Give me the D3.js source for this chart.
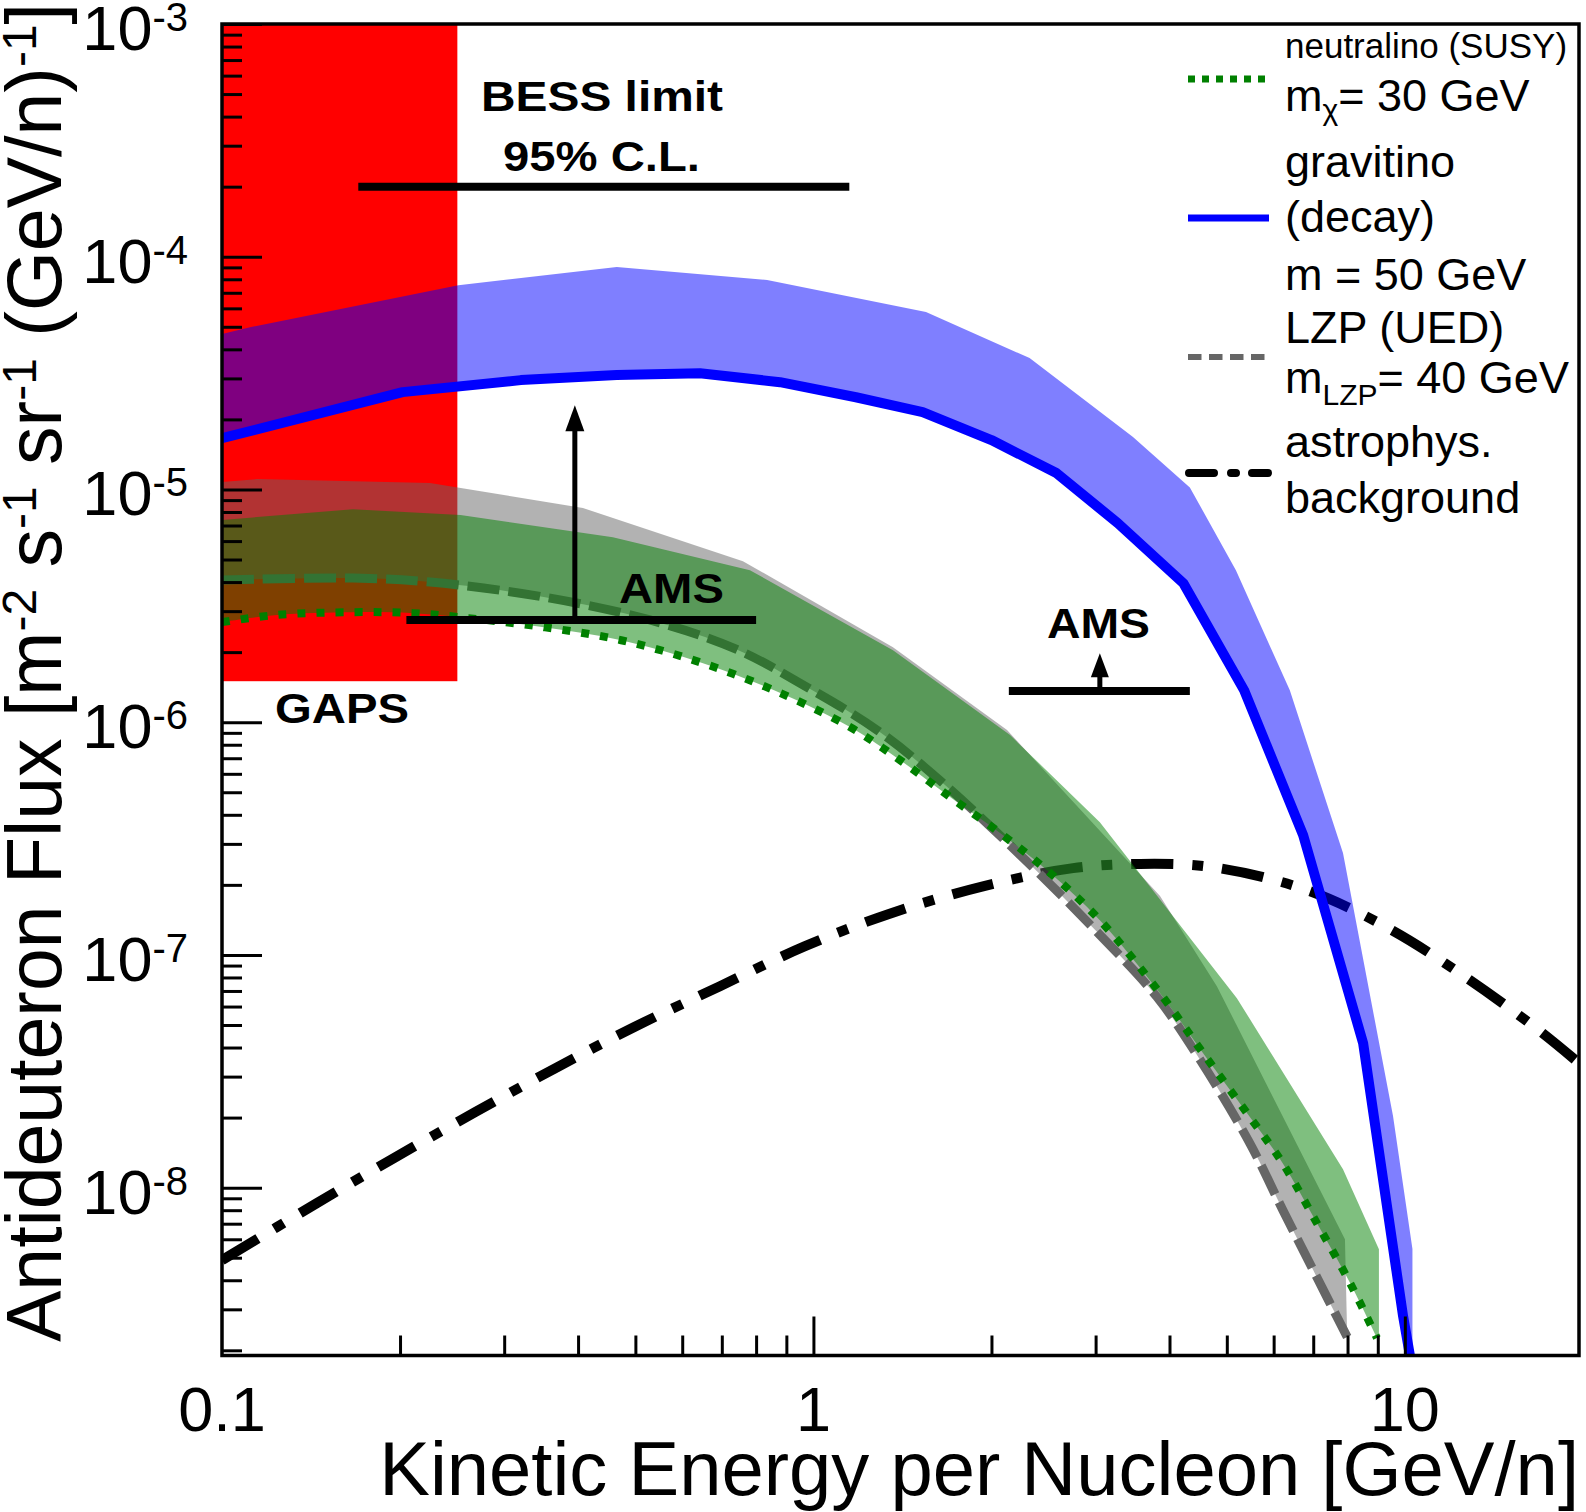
<!DOCTYPE html>
<html><head><meta charset="utf-8">
<script src="https://cdn.jsdelivr.net/npm/d3@7"></script>
<style>
html,body{margin:0;padding:0;background:#fff;}
svg{display:block;}
text{font-family:"Liberation Sans", Arial, Helvetica, sans-serif;fill:#000;}
</style></head><body>
<svg id="chart" width="1586" height="1512"></svg>
<script>
// ---------------- data (kinetic energy per nucleon [GeV/n], flux) ----------------
// gravitino (decay), m = 50 GeV : band upper edge and central line (= lower edge)
const gravitinoBandE  = [0.1, 0.112, 0.251, 0.465, 0.835, 1.55, 2.32, 3.47, 4.33, 5.18, 6.39, 7.86, 9.55, 10.3, 10.3];
const gravitinoBandHi = [4.66e-5, 4.99e-5, 7.55e-5, 9.03e-5, 7.94e-5, 5.79e-5, 3.67e-5, 1.68e-5, 1.02e-5, 4.5e-6, 1.37e-6, 2.74e-7, 2.03e-8, 5.45e-9, 1.9e-9];
const gravitinoE    = [0.1, 0.202, 0.32, 0.465, 0.643, 0.878, 1.18, 1.53, 2.0, 2.57, 3.27, 4.22, 5.35, 6.73, 8.5, 9.93, 10.2];
const gravitinoFlux = [1.66e-5, 2.62e-5, 2.95e-5, 3.10e-5, 3.16e-5, 2.89e-5, 2.49e-5, 2.15e-5, 1.63e-5, 1.18e-5, 7.17e-6, 3.96e-6, 1.37e-6, 3.27e-7, 4.18e-8, 2.81e-9, 1.9e-9];

// neutralino (SUSY), m = 30 GeV : band upper edge and dotted line (= lower edge)
const neutralinoBandE  = [0.1, 0.1665, 0.253, 0.458, 0.781, 1.363, 2.15, 3.05, 5.2, 7.86, 9.04, 9.04];
const neutralinoBandHi = [7.39e-6, 8.23e-6, 7.76e-6, 6.24e-6, 4.5e-6, 2.04e-6, 8.8e-7, 3.72e-7, 6.52e-8, 1.2e-8, 5.44e-9, 2.2e-9];
const neutralinoE    = [0.1, 0.124, 0.1665, 0.211, 0.261, 0.35, 0.473, 0.643, 0.858, 1.153, 1.401, 1.702, 2.068, 2.513, 3.05, 3.855, 4.56, 5.47, 6.22, 7.10, 8.08, 8.97];
const neutralinoFlux = [2.69e-6, 2.89e-6, 2.97e-6, 2.94e-6, 2.80e-6, 2.56e-6, 2.25e-6, 1.81e-6, 1.37e-6, 9.53e-7, 6.87e-7, 4.77e-7, 3.34e-7, 2.25e-7, 1.41e-7, 6.85e-8, 3.78e-8, 2.01e-8, 1.27e-8, 7.04e-9, 3.89e-9, 2.26e-9];

// LZP (UED), m = 40 GeV : band upper edge and dashed line (= lower edge)
const lzpBandE  = [0.1, 0.1146, 0.2247, 0.4076, 0.76, 1.363, 2.125, 3.855, 4.81, 7.92];
const lzpBandHi = [1.076e-5, 1.108e-5, 1.066e-5, 8.32e-6, 4.92e-6, 2.10e-6, 9.25e-7, 1.79e-7, 7.34e-8, 6.0e-9];
const lzpE    = [0.1, 0.1665, 0.2247, 0.35, 0.529, 0.74, 0.968, 1.281, 1.656, 2.35, 3.05, 3.81, 4.51, 5.47, 6.22, 7.10, 7.99];
const lzpFlux = [4.08e-6, 4.16e-6, 4.0e-6, 3.45e-6, 2.75e-6, 2.06e-6, 1.43e-6, 9.25e-7, 5.47e-7, 2.38e-7, 1.22e-7, 6.59e-8, 3.53e-8, 1.55e-8, 8.0e-9, 4.12e-9, 2.28e-9];

// astrophysical background
const bgE    = [0.1, 0.1447, 0.1953, 0.2679, 0.3685, 0.497, 0.695, 0.968, 1.342, 1.935, 2.748, 3.566, 4.74, 6.83, 9.44, 12.74, 16.93, 19.7];
const bgFlux = [4.88e-9, 8.58e-9, 1.34e-8, 2.11e-8, 3.29e-8, 4.89e-8, 7.34e-8, 1.09e-7, 1.50e-7, 1.97e-7, 2.36e-7, 2.46e-7, 2.38e-7, 1.90e-7, 1.29e-7, 7.95e-8, 4.70e-8, 3.43e-8];

// experiments
const gapsE = [0.1, 0.25];      const gapsFlux = [1.5e-6, 1e-3];
const bessE = [0.17, 1.15];     const bessFlux = 2e-4;
const amsLowE = [0.205, 0.8];   const amsLowFlux = 2.75e-6;  const amsLowArrowE = 0.395;  const amsLowArrowTo = 2.3e-5;
const amsHighE = [2.14, 4.33];  const amsHighFlux = 1.36e-6; const amsHighArrowE = 3.05;  const amsHighArrowTo = 1.98e-6;

// axes
const xTickValues = [0.1, 1, 10];
const xTickLabels = ["0.1", "1", "10"];
const yTickValues = [1e-3, 1e-4, 1e-5, 1e-6, 1e-7, 1e-8];
const yTickExponents = ["-3", "-4", "-5", "-6", "-7", "-8"];

// ---------------- drawing ----------------
const plot = {left: 222, right: 1579, top: 24, bottom: 1355.5};
const x = d3.scaleLog().domain([0.1, 19.7]).range([plot.left, plot.right]);
const y = d3.scaleLog().domain([1.9e-9, 1e-3]).range([plot.bottom, plot.top]);

const svg = d3.select("#chart");
svg.append("rect").attr("width", 1586).attr("height", 1512).attr("fill", "#fff");
svg.append("defs").append("clipPath").attr("id", "clip").append("rect")
  .attr("x", plot.left).attr("y", plot.top)
  .attr("width", plot.right - plot.left).attr("height", plot.bottom - plot.top);
const g = svg.append("g").attr("clip-path", "url(#clip)");

const lin = d3.line().x(d => x(d[0])).y(d => y(d[1]));
const smooth = d3.line().x(d => x(d[0])).y(d => y(d[1])).curve(d3.curveCatmullRom.alpha(0.5));

function band(upE, upF, loE, loF, loGen) {
  const up = lin(d3.zip(upE, upF));
  const lo = loGen(d3.zip(loE, loF).reverse());
  return up + "L" + lo.slice(1) + "Z";
}

// GAPS box
g.append("rect")
  .attr("x", x(gapsE[0])).attr("y", y(gapsFlux[1]))
  .attr("width", x(gapsE[1]) - x(gapsE[0])).attr("height", y(gapsFlux[0]) - y(gapsFlux[1]))
  .attr("fill", "#ff0000");

// background
g.append("path").attr("d", smooth(d3.zip(bgE, bgFlux)))
  .attr("fill", "none").attr("stroke", "#000").attr("stroke-width", 10)
  .attr("stroke-dasharray", "42,19,11,19");

// LZP band + line
g.append("path").attr("d", band(lzpBandE, lzpBandHi, lzpE, lzpFlux, smooth))
  .attr("fill", "#666666").attr("fill-opacity", 0.5);
g.append("path").attr("d", smooth(d3.zip(lzpE, lzpFlux)))
  .attr("fill", "none").attr("stroke", "#666666").attr("stroke-width", 9)
  .attr("stroke-dasharray", "32,9");

// neutralino band + line
g.append("path").attr("d", band(neutralinoBandE, neutralinoBandHi, neutralinoE, neutralinoFlux, smooth))
  .attr("fill", "#008000").attr("fill-opacity", 0.5);
g.append("path").attr("d", smooth(d3.zip(neutralinoE, neutralinoFlux)))
  .attr("fill", "none").attr("stroke", "#008000").attr("stroke-width", 8)
  .attr("stroke-dasharray", "8,11");

// gravitino band + line
g.append("path").attr("d", band(gravitinoBandE, gravitinoBandHi, gravitinoE, gravitinoFlux, lin))
  .attr("fill", "#0000ff").attr("fill-opacity", 0.5);
g.append("path").attr("d", lin(d3.zip(gravitinoE, gravitinoFlux)))
  .attr("fill", "none").attr("stroke", "#0000ff").attr("stroke-width", 10)
  .attr("stroke-linejoin", "round");

// BESS limit
g.append("line").attr("x1", x(bessE[0])).attr("x2", x(bessE[1]))
  .attr("y1", y(bessFlux)).attr("y2", y(bessFlux)).attr("stroke", "#000").attr("stroke-width", 8);

// AMS sensitivities with arrows
function amsMark(E, F, aE, aTo, head, halfW) {
  g.append("line").attr("x1", x(E[0])).attr("x2", x(E[1])).attr("y1", y(F)).attr("y2", y(F))
    .attr("stroke", "#000").attr("stroke-width", 8);
  const ax = x(aE), tip = y(aTo);
  g.append("line").attr("x1", ax).attr("x2", ax).attr("y1", y(F)).attr("y2", tip + head - 2)
    .attr("stroke", "#000").attr("stroke-width", 5);
  g.append("path").attr("d", `M${ax},${tip}L${ax - halfW},${tip + head}L${ax + halfW},${tip + head}Z`).attr("fill", "#000");
}
amsMark(amsLowE, amsLowFlux, amsLowArrowE, amsLowArrowTo, 26, 9.5);
amsMark(amsHighE, amsHighFlux, amsHighArrowE, amsHighArrowTo, 24, 9);

// ticks
const yMinor = [];
for (let e = -9; e <= -4; e++) for (let k = 2; k <= 9; k++) {
  const v = k * Math.pow(10, e);
  if (v >= 1.9e-9 && v < 1e-3) yMinor.push(v);
}
const xMinor = [];
for (let e = -1; e <= 0; e++) for (let k = 2; k <= 9; k++) xMinor.push(k * Math.pow(10, e));

function styleAxis(sel) {
  sel.select(".domain").remove();
  sel.selectAll("line").attr("stroke", "#000").attr("stroke-width", 3);
}
svg.append("g").attr("transform", `translate(${plot.left},0)`)
  .call(d3.axisRight(y).tickValues(yTickValues).tickSize(40).tickFormat("")).call(styleAxis);
svg.append("g").attr("transform", `translate(${plot.left},0)`)
  .call(d3.axisRight(y).tickValues(yMinor).tickSize(20).tickFormat("")).call(styleAxis);
svg.append("g").attr("transform", `translate(0,${plot.bottom})`)
  .call(d3.axisTop(x).tickValues(xTickValues.slice(1)).tickSize(39).tickFormat("")).call(styleAxis);
svg.append("g").attr("transform", `translate(0,${plot.bottom})`)
  .call(d3.axisTop(x).tickValues(xMinor).tickSize(20).tickFormat("")).call(styleAxis);

// frame
svg.append("rect").attr("x", plot.left).attr("y", plot.top)
  .attr("width", plot.right - plot.left).attr("height", plot.bottom - plot.top)
  .attr("fill", "none").attr("stroke", "#000").attr("stroke-width", 3.5);

// tick labels
xTickValues.forEach((v, i) => {
  svg.append("text").attr("x", x(v)).attr("y", 1431).attr("text-anchor", "middle")
    .style("font-size", "63px").text(xTickLabels[i]);
});
yTickValues.forEach((v, i) => {
  const t = svg.append("text").attr("x", 188).attr("y", y(v) + 26).attr("text-anchor", "end")
    .style("font-size", "63px");
  t.append("tspan").text("10");
  t.append("tspan").attr("dy", -19).style("font-size", "40px").text(yTickExponents[i]);
});

// axis titles
svg.append("text").attr("x", plot.right).attr("y", 1495).attr("text-anchor", "end")
  .style("font-size", "76px").text("Kinetic Energy per Nucleon [GeV/n]");
const yt = svg.append("text").attr("transform", "translate(61,3) rotate(-90)")
  .attr("text-anchor", "end").style("font-size", "77px");
const yParts = [["Antideuteron Flux [m", "-2"], [" s", "-1"], [" sr", "-1"], [" (GeV/n)", "-1"]];
yParts.forEach(([a, b], i) => {
  yt.append("tspan").attr("dy", i === 0 ? 0 : 25).text(a);
  yt.append("tspan").attr("dy", -25).style("font-size", "48px").text(b);
});
yt.append("tspan").attr("dy", 25).text("]");

// bold labels
function bold(txt, x0, x1, base) {
  svg.append("text").attr("x", x0).attr("y", base).style("font-size", "43px").style("font-weight", "bold")
    .attr("textLength", x1 - x0).attr("lengthAdjust", "spacingAndGlyphs").text(txt);
}
bold("BESS limit", 481, 723, 111);
bold("95% C.L.", 503, 700, 171);
bold("GAPS", 275, 409, 723);
bold("AMS", 619, 724, 603);
bold("AMS", 1047, 1150, 638);

// legend
const lg = svg.append("g");
lg.append("line").attr("x1", 1188).attr("x2", 1266).attr("y1", 79).attr("y2", 79)
  .attr("stroke", "#008000").attr("stroke-width", 7).attr("stroke-dasharray", "7,7");
lg.append("line").attr("x1", 1188).attr("x2", 1269).attr("y1", 218).attr("y2", 218)
  .attr("stroke", "#0000ff").attr("stroke-width", 7);
lg.append("line").attr("x1", 1188).attr("x2", 1265).attr("y1", 357).attr("y2", 357)
  .attr("stroke", "#666666").attr("stroke-width", 6).attr("stroke-dasharray", "13.5,7.5");
lg.append("line").attr("x1", 1189).attr("x2", 1268).attr("y1", 473).attr("y2", 473)
  .attr("stroke", "#000").attr("stroke-width", 8).attr("stroke-linecap", "round")
  .attr("stroke-dasharray", "25,17,5,16,16");

const lx = 1285;
lg.append("text").attr("x", lx).attr("y", 58).style("font-size", "35px").text("neutralino (SUSY)");
const t1 = lg.append("text").attr("x", lx).attr("y", 111).style("font-size", "45px");
t1.append("tspan").text("m");
t1.append("tspan").attr("dy", 9).style("font-size", "30px").text("χ");
t1.append("tspan").attr("dy", -9).text("= 30 GeV");
lg.append("text").attr("x", lx).attr("y", 177).style("font-size", "45px").text("gravitino");
lg.append("text").attr("x", lx).attr("y", 232).style("font-size", "45px").text("(decay)");
lg.append("text").attr("x", lx).attr("y", 290).style("font-size", "45px").text("m = 50 GeV");
lg.append("text").attr("x", lx).attr("y", 343).style("font-size", "45px").text("LZP (UED)");
const t2 = lg.append("text").attr("x", lx).attr("y", 393).style("font-size", "45px");
t2.append("tspan").text("m");
t2.append("tspan").attr("dy", 12).style("font-size", "30px").text("LZP");
t2.append("tspan").attr("dy", -12).text("= 40 GeV");
lg.append("text").attr("x", lx).attr("y", 457).style("font-size", "45px").text("astrophys.");
lg.append("text").attr("x", lx).attr("y", 513).style("font-size", "45px").text("background");
</script>
</body></html>
